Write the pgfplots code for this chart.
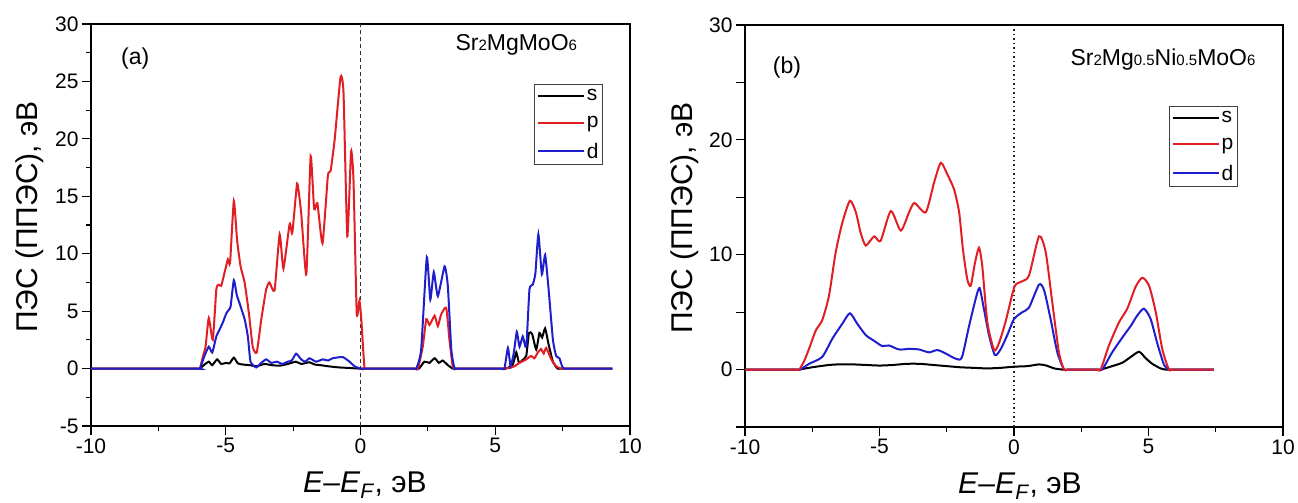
\documentclass[border=0pt]{standalone}
\usepackage{pgfplots}
\pgfplotsset{compat=1.18}
\usepackage{fontspec}
\setmainfont{Liberation Sans}
\definecolor{cR}{RGB}{225,30,35}
\definecolor{cB}{RGB}{30,30,205}
\newcommand{\sm}[1]{{\fontsize{15}{15}\selectfont #1}}
\pgfplotsset{
  dosstyle/.style={
    scale only axis,
    height=402pt,
    xmin=-10, xmax=10, ymin=-5, ymax=30,
    axis line style={line width=1.4pt},
    tick style={line width=1.2pt, black},
    major tick length=9pt, minor tick length=5pt,
    tick align=outside, xtick pos=bottom, ytick pos=left,
    xtick={-10,-5,0,5,10}, minor x tick num=1,
    /pgf/number format/assume math mode=true,
    ticklabel style={font=\fontsize{21}{24}\selectfont},
    xlabel={\textit{E}–\textit{E}\textsubscript{\textit{F}}, эВ},
    ylabel={ПЭС (ППЭС), эВ},
    legend cell align=left,
    legend image code/.code={\draw[##1] (0pt,0pt) -- (46pt,0pt);},
    every axis plot/.append style={line width=2pt},
    clip=false,
  }
}
\begin{document}
\begin{tikzpicture}
\useasboundingbox (0,0) rectangle (1298pt,503pt);
% ---------------- panel (a)
\begin{axis}[dosstyle, width=539pt, at={(91pt,77pt)}, anchor=south west,
  ytick={-5,0,5,10,15,20,25,30}, minor y tick num=1,
  every axis y label/.style={at={(axis description cs:-0.100,0.52)}, rotate=90, anchor=base, font=\fontsize{30}{34}\selectfont},
  every axis x label/.style={at={(axis description cs:0.508,-0.165)}, anchor=base, font=\fontsize{30}{34}\selectfont},
  legend style={draw=black!75, line width=1pt, font=\fontsize{21}{24}\selectfont,
    at={(rel axis cs:0.950,0.851)}, anchor=north east, inner xsep=2pt, inner ysep=3pt, row sep=10pt},
]
\addplot[forget plot, black!80, line width=1pt, dash pattern=on 4pt off 3pt] coordinates {(0,-5) (0,30)};
\addplot[black, smooth, tension=0.3] coordinates {(-10,0) (-6.1,0) (-5.96,0) (-5.79,0.35) (-5.63,0.6) (-5.5,0.3) (-5.32,0.8) (-5.17,0.4) (-4.98,0.5) (-4.86,0.45) (-4.70,0.95) (-4.55,0.45) (-4.36,0.35) (-4.11,0.3) (-3.87,0.2) (-3.56,0.4) (-3.3,0.3) (-3.0,0.25) (-2.7,0.4) (-2.4,0.6) (-2.2,0.4) (-1.9,0.55) (-1.7,0.35) (-1.5,0.3) (-1.2,0.2) (-0.8,0.1) (-0.4,0.05) (0,0) (2.0,0) (2.17,0) (2.37,0.6) (2.56,0.5) (2.75,0.9) (2.91,0.5) (3.05,0.7) (3.24,0.3) (3.42,0) (3.6,0) (5.25,0) (5.40,0) (5.65,0.35) (5.78,1.4) (5.88,0.5) (5.99,0.7) (6.15,1.1) (6.25,3.1) (6.37,3.0) (6.52,1.65) (6.64,3.1) (6.74,2.7) (6.85,3.5) (6.98,2.1) (7.14,0.6) (7.31,0) (7.5,0) (9.35,0)};
\addlegendentry{s}
\addplot[cR, smooth, tension=0.3] coordinates {(-10,0) (-6.1,0) (-5.96,0) (-5.86,0.96) (-5.75,1.9) (-5.63,4.4) (-5.48,2.5) (-5.35,6.9) (-5.26,7.3) (-5.17,7.2) (-5.05,8.3) (-4.92,9.5) (-4.84,9.2) (-4.70,14.6) (-4.58,11.2) (-4.45,8.9) (-4.30,7.5) (-4.14,4.8) (-4.0,1.9) (-3.85,1.4) (-3.68,4.3) (-3.50,6.9) (-3.38,7.5) (-3.19,6.8) (-3.0,11.7) (-2.86,8.7) (-2.63,12.6) (-2.53,11.8) (-2.35,16.1) (-2.2,13.5) (-2.01,8.2) (-1.85,18.5) (-1.72,13.9) (-1.60,14.4) (-1.41,10.9) (-1.21,16.8) (-1.11,17.2) (-0.96,19.9) (-0.74,25.4) (-0.63,24.0) (-0.49,11.5) (-0.35,18.9) (-0.26,16.4) (-0.14,4.8) (-0.04,5.9) (0.03,4.3) (0.10,1.6) (0.15,0) (0.17,0) (2.0,0) (2.13,0) (2.31,1.9) (2.44,4.3) (2.56,3.8) (2.75,4.6) (2.87,3.7) (2.99,4.7) (3.18,5.3) (3.30,2.5) (3.42,0.2) (3.48,0) (3.6,0) (5.15,0) (5.28,0) (5.52,0.05) (5.71,0.2) (5.90,0.5) (6.15,0.8) (6.33,1.1) (6.45,0.9) (6.58,1.4) (6.70,1.7) (6.80,1.3) (6.89,1.8) (7.08,0.8) (7.26,0.2) (7.44,0) (7.6,0) (9.35,0)};
\addlegendentry{p}
\addplot[cB, smooth, tension=0.3] coordinates {(-10,0) (-6.1,0) (-5.96,0) (-5.79,1.1) (-5.63,1.9) (-5.50,1.4) (-5.35,2.8) (-5.23,3.4) (-5.11,4.0) (-4.98,4.8) (-4.89,5.1) (-4.82,5.4) (-4.70,7.7) (-4.59,6.4) (-4.49,5.7) (-4.30,4.3) (-4.18,2.8) (-4.08,0.6) (-3.87,0.1) (-3.68,0.5) (-3.50,0.8) (-3.31,0.5) (-3.1,0.6) (-2.9,0.4) (-2.7,0.6) (-2.55,0.7) (-2.39,1.3) (-2.2,0.8) (-2.05,0.6) (-1.89,0.9) (-1.65,0.6) (-1.40,0.8) (-1.2,0.7) (-1.03,0.9) (-0.66,1.0) (-0.41,0.6) (-0.22,0.2) (0,0) (0.15,0) (1.95,0) (2.07,0) (2.25,1.65) (2.46,9.7) (2.59,6.0) (2.72,8.4) (2.87,6.3) (3.12,8.9) (3.24,7.2) (3.37,1.65) (3.49,0) (3.6,0) (5.2,0) (5.34,0) (5.47,1.8) (5.57,0.2) (5.69,1.4) (5.80,3.2) (5.90,1.9) (6.02,2.8) (6.15,1.9) (6.27,6.9) (6.39,7.3) (6.49,8.3) (6.60,11.7) (6.73,8.2) (6.85,9.9) (6.98,6.9) (7.14,2.5) (7.26,1.1) (7.38,0.9) (7.48,0.2) (7.55,0) (7.7,0) (9.35,0)};
\addlegendentry{d}
\node[font=\fontsize{23}{26}\selectfont] at (axis description cs:0.082,0.915) {(a)};
\node[font=\fontsize{23}{26}\selectfont] at (axis description cs:0.789,0.948) {Sr\sm{2}MgMoO\sm{6}};
\end{axis}
% ---------------- panel (b)
\begin{axis}[dosstyle, width=538pt, at={(745pt,76pt)}, anchor=south west,
  ytick={0,10,20,30}, extra y ticks={-5,5,15,25}, extra y tick labels={},
  every axis y label/.style={at={(axis description cs:-0.097,0.52)}, rotate=90, anchor=base, font=\fontsize{30}{34}\selectfont},
  every axis x label/.style={at={(axis description cs:0.511,-0.165)}, anchor=base, font=\fontsize{30}{34}\selectfont},
  legend style={draw=black!75, line width=1pt, font=\fontsize{21}{24}\selectfont,
    at={(rel axis cs:0.916,0.799)}, anchor=north east, inner xsep=2pt, inner ysep=3pt, row sep=10pt},
]
\addplot[forget plot, black!85, line width=1.5pt, dash pattern=on 1.5pt off 3pt] coordinates {(0,-5) (0,30)};
\addplot[forget plot, black, smooth, tension=0.4] coordinates {(-10,0) (-8.2,0) (-8.0,0) (-7.5,0.2) (-6.88,0.4) (-6.5,0.45) (-6,0.45) (-5.5,0.4) (-5,0.35) (-4.5,0.4) (-4,0.5) (-3.5,0.5) (-3,0.4) (-2.5,0.3) (-2,0.2) (-1.5,0.15) (-1,0.1) (-0.5,0.15) (0,0.25) (0.5,0.3) (0.93,0.45) (1.2,0.35) (1.5,0.1) (1.8,0) (2.0,0) (3.0,0) (3.22,0) (3.65,0.3) (4.03,0.6) (4.34,1.1) (4.65,1.55) (4.89,1.0) (5.14,0.5) (5.45,0.1) (5.64,0) (5.85,0) (7.43,0)};
\addplot[forget plot, cB, smooth, tension=0.4] coordinates {(-10,0) (-8.15,0) (-7.95,0) (-7.62,0.5) (-7.13,1.1) (-6.75,2.7) (-6.38,4.0) (-6.10,4.9) (-5.83,4.0) (-5.51,3.0) (-5.20,2.5) (-4.90,2.05) (-4.65,2.1) (-4.28,1.75) (-3.90,1.8) (-3.53,1.75) (-3.16,1.5) (-2.85,1.7) (-2.54,1.4) (-2.17,0.95) (-1.94,1.05) (-1.67,3.8) (-1.42,6.2) (-1.28,7.1) (-1.12,5.3) (-0.93,3.0) (-0.71,1.25) (-0.49,1.8) (-0.25,3.0) (0,4.4) (0.31,5.0) (0.56,5.4) (0.93,7.4) (1.12,6.9) (1.36,4.4) (1.61,1.5) (1.86,0) (2.05,0) (3.1,0) (3.28,0) (3.65,1.5) (4.03,2.8) (4.34,3.8) (4.58,4.7) (4.83,5.3) (5.08,4.4) (5.33,2.25) (5.58,0.4) (5.76,0) (5.95,0) (7.43,0)};
\addplot[forget plot, cR, smooth, tension=0.4] coordinates {(-10,0) (-8.2,0) (-7.99,0) (-7.81,0.7) (-7.62,1.8) (-7.37,3.4) (-7.13,4.3) (-6.88,6.4) (-6.63,10.2) (-6.38,12.8) (-6.10,14.7) (-5.88,13.7) (-5.70,11.9) (-5.51,10.8) (-5.20,11.6) (-4.96,11.2) (-4.58,13.8) (-4.21,12.1) (-3.90,13.7) (-3.70,14.5) (-3.28,13.7) (-2.97,16.3) (-2.72,18.0) (-2.48,17.0) (-2.23,15.7) (-2.04,13.7) (-1.90,10.5) (-1.74,7.9) (-1.61,7.3) (-1.45,9.3) (-1.30,10.6) (-1.18,9.0) (-0.99,4.1) (-0.74,1.7) (-0.56,2.3) (-0.31,4.2) (-0.06,6.6) (0.06,7.4) (0.31,7.7) (0.56,8.2) (0.93,11.6) (1.18,10.2) (1.42,5.9) (1.67,1.5) (1.86,0) (2.05,0) (3.05,0) (3.22,0) (3.53,2.1) (3.90,4.1) (4.21,5.3) (4.52,7.2) (4.77,8.0) (5.02,7.3) (5.27,5.0) (5.51,1.8) (5.76,0) (5.95,0) (7.43,0)};
\addlegendimage{black, line width=2pt}\addlegendentry{s}
\addlegendimage{cR, line width=2pt}\addlegendentry{p}
\addlegendimage{cB, line width=2pt}\addlegendentry{d}
\node[font=\fontsize{23}{26}\selectfont] at (axis description cs:0.078,0.893) {(b)};
\node[font=\fontsize{23}{26}\selectfont] at (axis description cs:0.777,0.913) {Sr\sm{2}Mg\sm{0.5}Ni\sm{0.5}MoO\sm{6}};
\end{axis}
\end{tikzpicture}
\end{document}
